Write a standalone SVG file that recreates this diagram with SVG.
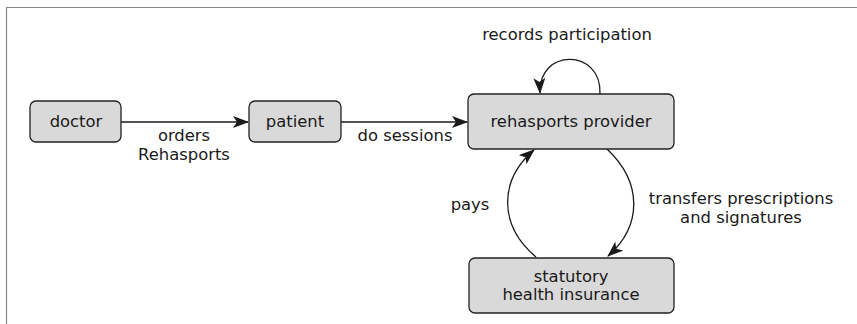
<svg xmlns="http://www.w3.org/2000/svg" width="857" height="324" viewBox="0 0 857 324">
<style>
.node rect{fill:#d9d9d9;stroke:#222;stroke-width:1.3}
text{font-family:"DejaVu Sans",sans-serif;font-size:16.4px;fill:#1a1a1a;text-anchor:middle}
.edge{fill:none;stroke:#1a1a1a;stroke-width:1.3;marker-end:url(#arr)}
</style>
<defs>
<marker id="arr" viewBox="0 0 16 12" refX="15" refY="6" markerWidth="16" markerHeight="12" markerUnits="userSpaceOnUse" orient="auto">
<path d="M0,0 L16,6 L0,12 L4,6 Z" fill="#1a1a1a"/>
</marker>
</defs>
<rect width="857" height="324" fill="#fff"/>
<path d="M6.5,324 V7.5 H857" fill="none" stroke="#888" stroke-width="1.2"/>
<g id="connectors">
<path class="edge" d="M121,122 H248"/>
<path class="edge" d="M341,122 H467"/>
<path class="edge" d="M600,94 C602,48 538,48 540,93"/>
<path class="edge" d="M607,149 C642,182 643,225 608,256"/>
<path class="edge" d="M536,257 C498,225 499,180 534,150"/>
<text x="184" y="141">orders</text>
<text x="184" y="160">Rehasports</text>
<text x="405" y="141">do sessions</text>
<text x="567" y="40">records participation</text>
<text x="470" y="210">pays</text>
<text x="741" y="204">transfers prescriptions</text>
<text x="741" y="223">and signatures</text>
</g>
<g id="doctor" class="node"><rect x="30" y="101" width="91" height="41" rx="6"/><text x="76" y="127">doctor</text></g>
<g id="patient" class="node"><rect x="249" y="101" width="92" height="41" rx="6"/><text x="295" y="127">patient</text></g>
<g id="provider" class="node"><rect x="468" y="94" width="206" height="55" rx="6"/><text x="571" y="127">rehasports provider</text></g>
<g id="insurance" class="node"><rect x="469" y="258" width="205" height="55" rx="6"/><text x="571" y="282">statutory</text><text x="571" y="300">health insurance</text></g>
</svg>
